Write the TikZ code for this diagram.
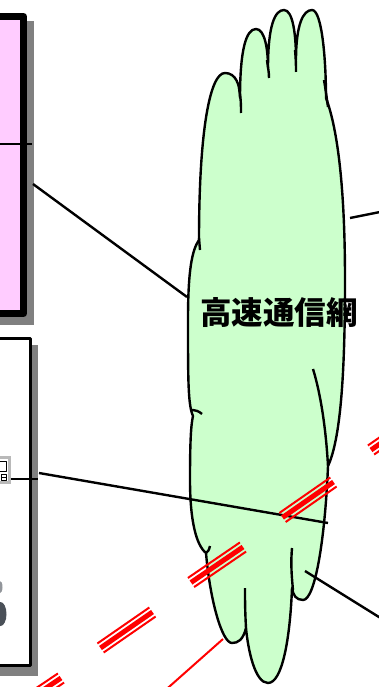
\documentclass[tikz,border=0pt]{standalone}
\usepackage{fontspec}
\newfontfamily\cjk{Noto Sans CJK JP}
\usetikzlibrary{calc}
\definecolor{hostpink}{HTML}{FFCCFF}
\definecolor{netgreen}{HTML}{CCFFCC}
\definecolor{boxshadow}{HTML}{808080}
\definecolor{figgray}{HTML}{4A5058}
\tikzset{
  link/.style={line width=2.4pt},
  redline/.style={red, line width=2pt},
}
\newcommand\cutmark[2]{%
  \draw[red, line width=5pt] (#1) -- (#2);
  \draw[red, line width=2pt] ($(#1)!5.5pt!90:(#2)$) -- ($(#2)!5.5pt!-90:(#1)$);
  \draw[red, line width=2pt] ($(#1)!5.5pt!-90:(#2)$) -- ($(#2)!5.5pt!90:(#1)$);}

\begin{document}
\begin{tikzpicture}[x=1pt,y=-1pt,line join=round]
\useasboundingbox (0,0) rectangle (379,687);
\clip (0,0) rectangle (379,687);

% host box, upper left
\fill[boxshadow] (-80,21) rectangle (34,325);
\node[draw, line width=7pt, fill=hostpink, minimum width=103.5pt, minimum height=297pt, inner sep=0pt] (hostbox) at (-28.25,165) {};
\coordinate (hostport) at (32,144);
\draw[link] (hostbox.west |- hostport) -- (hostport);

% terminal box, lower left
\fill[boxshadow] (-80,345) rectangle (38,676);
\node[draw, line width=3pt, fill=white, minimum width=110.5pt, minimum height=327pt, inner sep=0pt] (termbox) at (-24.75,502) {};
\node[fill=gray!55, minimum width=16pt, minimum height=28pt, inner sep=0pt] (icon) at (3,470) {};
\fill[white] (-5,459) rectangle (8,481);
\draw[line width=0.8pt] (-2,461) rectangle (6,471);
\draw[line width=0.8pt] (1,474) rectangle (6,480) (1,477) -- (6,477);
\coordinate (iconport) at (11,479);
\coordinate (termedge) at (38,479);
\draw[link] (iconport) -- (termedge);
\fill[figgray!60] (0,587) ellipse [x radius=2.5pt, y radius=6pt];
\fill[figgray] (0.5,614) ellipse [x radius=6pt, y radius=12pt];

% network cloud
\filldraw[fill=netgreen, draw=black, line width=2.4pt]
  (199,240) .. controls (199,130) and (210,73) .. (225,73)
  .. controls (236,73) and (240,85) .. (240,98)
  .. controls (240,50) and (246,29) .. (256,29)
  .. controls (265,29) and (268,50) .. (268,68)
  .. controls (268,25) and (275,10) .. (284,10)
  .. controls (293,10) and (296,35) .. (296,60)
  .. controls (296,25) and (303,10) .. (312,10)
  .. controls (322,10) and (326,60) .. (326,98)
  .. controls (338,130) and (345,190) .. (345,280)
  .. controls (345,380) and (340,440) .. (328,466)
  .. controls (325,540) and (315,600) .. (303,600)
  .. controls (296,600) and (293,595) .. (292,588)
  .. controls (290,640) and (282,683) .. (268,683)
  .. controls (255,683) and (248,650) .. (246,628)
  .. controls (243,640) and (238,643) .. (232,643)
  .. controls (222,643) and (210,600) .. (206,553)
  .. controls (196,545) and (190,520) .. (190,480)
  .. controls (190,440) and (191,425) .. (193,416)
  .. controls (188,405) and (188,380) .. (188,320)
  .. controls (188,270) and (192,250) .. (199,240) -- cycle;
\draw[line width=2.4pt]
  (239,88) .. controls (241,98) and (241,106) .. (241,113)
  (267,60) .. controls (268,68) and (269,72) .. (269,78)
  (295,50) .. controls (296,60) and (296,66) .. (296,72)
  (324,80) .. controls (326,92) and (327,100) .. (328,107)
  (313,369) .. controls (321,395) and (326,430) .. (328,466)
  (293,590) .. controls (291,570) and (291,560) .. (292,548)
  (246,628) .. controls (245,610) and (245,600) .. (245,588)
  (206,553) .. controls (208,552) and (209,550) .. (210,546)
  (191,410) .. controls (195,410) and (199,411) .. (202,414)
  (199,238) -- (200,250);
\node[font={\cjk\bfseries\fontsize{31.5}{31.5}\selectfont}, inner sep=0pt] (wanlabel) at (279,313) {高速通信網};

% links into the cloud
\coordinate (cloudW) at (187,297);
\coordinate (termport) at (39,473);
\coordinate (cloudE) at (328,523);
\coordinate (cloudS) at (305,571);
\coordinate (exitSE) at (395,627);
\coordinate (cloudNE) at (350,218);
\coordinate (exitNE) at (395,209);
\coordinate (cloudSW) at (223,639);
\coordinate (exitSW) at (161,694);
\coordinate (hostlink) at (33,184);
\draw[link] (hostlink) -- (cloudW);
\draw[link] (termport) -- (cloudE);
\draw[link] (cloudS) -- (exitSE);
\draw[link] (cloudNE) -- (exitNE);
\draw[redline] (cloudSW) -- (exitSW);

% cut marks
\cutmark{282.5,517.5}{333.5,482}
\cutmark{191,582.5}{243,547}
\cutmark{100.5,648}{152.5,612}
\cutmark{9,713}{61,678}
\cutmark{371,450}{423,414}
\end{tikzpicture}
\end{document}
